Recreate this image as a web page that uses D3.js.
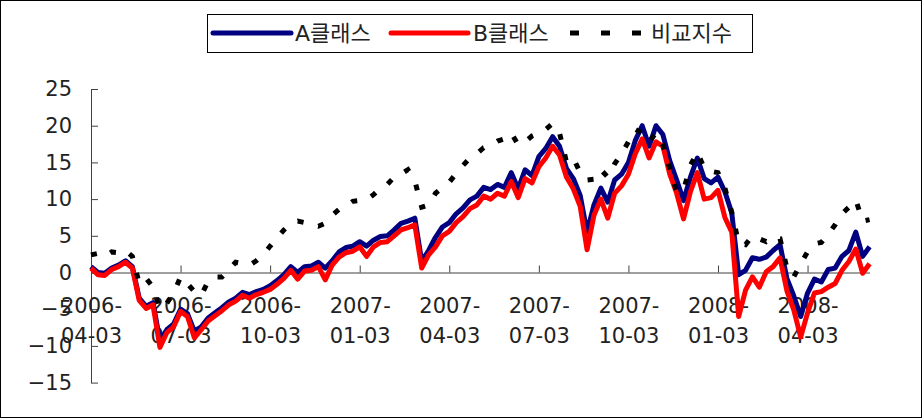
<!DOCTYPE html>
<html><head><meta charset="utf-8">
<script src="https://cdn.jsdelivr.net/npm/d3@7/dist/d3.min.js"></script>
<style>
body{margin:0;background:#fff;}
svg{display:block;font-family:"DejaVu Sans","Noto Sans CJK KR",sans-serif;}
</style></head>
<body><svg id="c" width="924" height="419"></svg>
<script>
const seriesNames = ["A클래스", "B클래스", "비교지수"];
const tickLabels = ["2006-04-03","2006-07-03","2006-10-03","2007-01-03","2007-04-03","2007-07-03","2007-10-03","2008-01-03","2008-04-03"];
const yTicks = [-15,-10,-5,0,5,10,15,20,25];

const classA = [0.8,0.0,-0.1,0.6,1.0,1.6,0.8,-3.5,-4.6,-4.1,
 -9.3,-7.8,-7.0,-5.0,-5.6,-8.0,-7.4,-6.2,-5.5,-4.8,
 -4.0,-3.5,-2.7,-3.0,-2.6,-2.3,-1.8,-1.1,-0.3,0.8,
 0.0,0.8,0.9,1.4,0.6,1.6,2.8,3.4,3.6,4.2,
 3.6,4.4,4.9,5.0,5.8,6.7,7.0,7.4,1.5,3.0,
 4.8,6.2,6.8,8.0,8.8,9.9,10.4,11.6,11.3,12.0,
 11.6,13.6,11.4,14.0,13.2,15.8,16.9,18.5,17.2,14.2,
 12.8,10.5,5.5,9.2,11.5,9.6,12.6,13.4,15.0,18.0,
 20.0,17.2,20.0,18.8,15.2,12.6,9.8,13.0,15.6,12.8,
 12.2,13.0,11.0,8.1,-0.3,0.3,2.0,1.8,2.1,3.0,
 3.8,-0.8,-3.2,-6.0,-2.8,-0.9,-1.3,0.4,0.6,2.2,
 3.0,5.5,2.2,3.5];
const classB = [0.6,-0.3,-0.4,0.4,0.8,1.4,0.6,-3.8,-4.9,-4.4,
 -10.2,-8.2,-7.4,-5.3,-6.0,-8.9,-7.8,-6.6,-5.9,-5.2,
 -4.4,-3.9,-3.1,-3.5,-3.0,-2.7,-2.3,-1.6,-0.8,0.3,
 -0.9,0.2,0.3,0.8,-1.0,1.0,2.1,2.7,2.9,3.5,
 2.2,3.5,4.1,4.2,5.0,5.8,6.1,6.5,0.6,2.4,
 3.5,5.0,5.6,6.8,7.6,8.7,9.2,10.4,10.0,10.8,
 10.4,12.4,10.2,12.8,12.2,14.4,15.6,17.2,16.0,13.0,
 11.4,9.0,3.1,7.8,10.0,7.4,10.8,11.8,13.4,16.2,
 18.2,15.6,17.8,17.2,13.4,10.8,7.3,11.0,13.6,10.0,
 10.2,11.2,7.5,5.5,-6.0,-2.4,-0.6,-2.0,0.1,0.8,
 2.0,-2.5,-5.1,-8.8,-5.5,-2.8,-2.6,-2.0,-1.5,0.3,
 1.5,3.2,-0.1,1.2];
const benchmark = [2.4,2.6,2.2,2.8,2.7,3.0,2.2,-1.5,-0.8,-2.0,
 -5.0,-4.2,-2.8,-0.6,-1.5,-2.6,-3.1,-1.2,-0.6,-0.6,
 0.4,1.4,1.2,1.0,1.6,2.4,3.6,4.7,5.8,6.7,
 7.0,6.8,6.5,6.3,6.7,7.8,8.6,9.0,9.7,9.8,
 9.9,10.6,11.5,12.0,13.0,13.4,14.0,12.5,8.9,9.2,
 10.8,11.6,12.3,13.5,14.6,15.6,16.2,17.0,17.3,17.9,
 18.2,19.0,17.4,17.8,18.6,19.0,19.5,20.3,19.0,15.1,
 15.6,13.6,12.6,12.7,14.0,13.0,14.8,16.2,17.8,19.5,
 19.0,17.8,19.0,17.4,14.2,11.0,11.2,14.6,16.4,14.2,
 13.8,13.6,11.5,8.2,4.0,3.8,5.0,4.6,4.2,4.8,
 4.6,0.6,-0.6,1.2,2.8,3.9,4.1,5.2,6.5,8.0,
 8.9,9.9,7.0,7.2];

const start = new Date(Date.UTC(2006,3,3));
const categories = classA.map((_, i) => d3.utcDay.offset(start, i*7));
const tickIdx = tickLabels.map((_, k) => k*13);

const svg = d3.select("#c");
const axisColor = "#404040", textColor = "#222";

// chart area border
svg.append("rect").attr("x",0.5).attr("y",0.5).attr("width",921).attr("height",417)
  .attr("fill","none").attr("stroke","#000").attr("stroke-width",1);

const x = d3.scaleLinear().domain([0, categories.length-1]).range([91, 91 + 6.89*(categories.length-1)]);
const y = d3.scaleLinear().domain([-15, 25]).range([382.6, 89]);

// y axis
const yAxis = svg.append("g").attr("transform","translate(91,0)")
  .call(d3.axisLeft(y).tickValues(yTicks).tickSize(-7).tickSizeOuter(0).tickPadding(19));
yAxis.selectAll("path,line").attr("stroke",axisColor);
yAxis.selectAll("text").attr("font-size",21).attr("fill",textColor)
  .attr("font-family",'"DejaVu Sans",sans-serif');

// x axis at zero
const xAxis = svg.append("g").attr("transform",`translate(0,${y(0)})`)
  .call(d3.axisBottom(x).tickValues(tickIdx).tickSize(-7).tickSizeOuter(0));
xAxis.selectAll("path,line").attr("stroke",axisColor);
xAxis.selectAll("text").each(function(d, k){
  const t = d3.select(this);
  const lab = tickLabels[k];
  t.text(null).attr("y",null).attr("dy",null)
    .attr("font-size",21).attr("fill",textColor).attr("font-family",'"DejaVu Sans",sans-serif');
  t.append("tspan").attr("x",0).attr("y",313 - y(0)).text(lab.slice(0,5));
  t.append("tspan").attr("x",0).attr("y",343 - y(0)).text(lab.slice(5));
});

const line = d3.line().x((d,i)=>x(i)).y(d=>y(d)).curve(d3.curveLinear);

svg.append("path").datum(classA).attr("d",line).attr("fill","none")
  .attr("stroke","#000080").attr("stroke-width",5).attr("stroke-linejoin","round");
svg.append("path").datum(classB).attr("d",line).attr("fill","none")
  .attr("stroke","#ff0000").attr("stroke-width",5).attr("stroke-linejoin","round");
svg.append("path").datum(benchmark).attr("d",line).attr("fill","none")
  .attr("stroke","#000").attr("stroke-width",5).attr("stroke-dasharray","6,15");

// legend
const lg = svg.append("g");
lg.append("rect").attr("x",207.5).attr("y",14.5).attr("width",545).attr("height",38)
  .attr("fill","#fff").attr("stroke","#000").attr("stroke-width",1);
const legendItems = [
  {name: seriesNames[0], color:"#000080", x1:213, x2:291, tx:295, dash:null},
  {name: seriesNames[1], color:"#ff0000", x1:391, x2:468, tx:473, dash:null},
  {name: seriesNames[2], color:"#000", x1:570, x2:642, tx:651, dash:"9,22"}
];
legendItems.forEach(it=>{
  const l = lg.append("line").attr("x1",it.x1).attr("x2",it.x2).attr("y1",33).attr("y2",33)
    .attr("stroke",it.color).attr("stroke-width",5).attr("stroke-linecap", it.dash ? "butt" : "round");
  if (it.dash) l.attr("stroke-dasharray",it.dash);
  lg.append("text").attr("x",it.tx).attr("y",41).attr("font-size",22).attr("fill",textColor)
    .text(it.name);
});
</script></body></html>
